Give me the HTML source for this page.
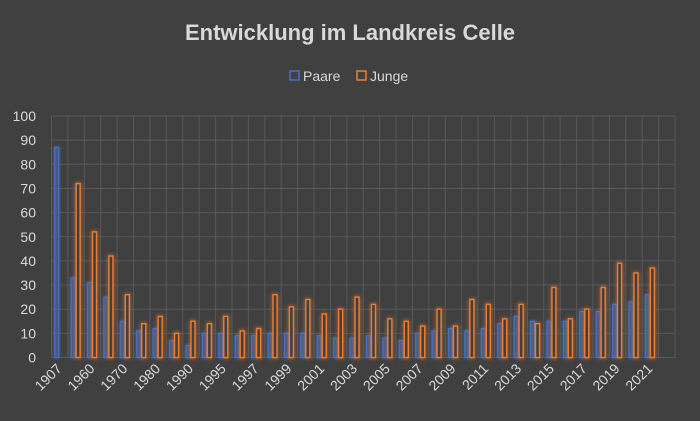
<!DOCTYPE html>
<html><head><meta charset="utf-8"><style>
body{margin:0;background:#404040;}
svg{display:block;font-family:"Liberation Sans",sans-serif;}
</style></head><body>
<svg id="chart" width="700" height="421" viewBox="0 0 700 421">
<defs>
<filter id="glowO" x="-200%" y="-20%" width="500%" height="140%"><feGaussianBlur stdDeviation="2" result="b"/><feMerge><feMergeNode in="b"/><feMergeNode in="SourceGraphic"/></feMerge></filter>
<filter id="glowB" x="-200%" y="-20%" width="500%" height="140%"><feGaussianBlur stdDeviation="1.5" result="b"/><feMerge><feMergeNode in="b"/><feMergeNode in="SourceGraphic"/></feMerge></filter>
</defs>
<rect width="700" height="421" fill="#404040"/>
<text x="350" y="40" text-anchor="middle" font-size="22" font-weight="bold" fill="#d9d9d9">Entwicklung im Landkreis Celle</text>
<g>
<rect x="290" y="71" width="9" height="9" fill="none" stroke="#4472c4" stroke-width="1.5"/>
<text x="303" y="81" font-size="14" fill="#d9d9d9">Paare</text>
<rect x="357" y="71" width="9" height="9" fill="none" stroke="#ed7d31" stroke-width="1.5"/>
<text x="370" y="81" font-size="14" fill="#d9d9d9">Junge</text>
</g>
<g id="grid"></g><g id="bars"></g><g id="labels"></g>
</svg>
<script>
const categories=["1907","1950","1960","1965","1970","1975","1980","1985","1990","1993","1995","1996","1997","1998","1999","2000","2001","2002","2003","2004","2005","2006","2007","2008","2009","2010","2011","2012","2013","2014","2015","2016","2017","2018","2019","2020","2021","2022"];
const paare=[87,33,31,25,15,11,12,7,5,10,10,9,9,10,10,10,9,8,8,9,8,7,10,11,12,11,12,14,17,15,15,15,19,19,22,23,26,0];
const junge=[0,72,52,42,26,14,17,10,15,14,17,11,12,26,21,24,18,20,25,22,16,15,13,20,13,24,22,16,22,14,29,16,20,29,39,35,37,0];
const yTicks=[0,10,20,30,40,50,60,70,80,90,100];
const NS="http://www.w3.org/2000/svg";
const L=51.5,R=675,T=116,B=357.5,yMax=100;
const cw=(R-L)/categories.length;
const y=v=>B-(v/yMax)*(B-T);
const xc=i=>L+cw*(i+0.5);
function mk(tag,attrs,parent){const e=document.createElementNS(NS,tag);for(const k in attrs)e.setAttribute(k,attrs[k]);parent.appendChild(e);return e;}
const grid=document.getElementById('grid'),bars=document.getElementById('bars'),labels=document.getElementById('labels');
yTicks.forEach(t=>{
 const l=mk('line',{x1:L,x2:R,y1:y(t),y2:y(t),stroke:'#595959','stroke-width':1},grid);
 
 
 const tx=mk('text',{x:36,y:y(t)+5,'text-anchor':'end','font-size':14,fill:'#d9d9d9'},labels);
 tx.textContent=t;
 
 
});
for(let i=0;i<=categories.length;i++){
 const gx=L+cw*i;
 const l=mk('line',{x1:gx,x2:gx,y1:T,y2:B,stroke:'#595959','stroke-width':1},grid);
 
 
}
categories.forEach((c,i)=>{
 const cx=xc(i);
 if(paare[i]>0){
  const r=mk('rect',{x:cx-5,y:y(paare[i]),width:4,height:B-y(paare[i]),fill:'#4a5a80','fill-opacity':0.6,stroke:'#4472c4','stroke-width':1.2,filter:'url(#glowB)'},bars);
  
  
 }
 if(junge[i]>0){
  const r=mk('rect',{x:cx,y:y(junge[i]),width:4,height:B-y(junge[i]),fill:'#404040',stroke:'#ed7d31','stroke-width':1.4,filter:'url(#glowO)'},bars);
  
  
 }
 if(i%2===0 && i<37){
  const tx=mk('text',{x:0,y:0,'text-anchor':'end','font-size':14,fill:'#d9d9d9',transform:`translate(${cx+3},${B+12}) rotate(-45)`},labels);
  tx.textContent=c;
  
  
 }
});
</script>
</body></html>
